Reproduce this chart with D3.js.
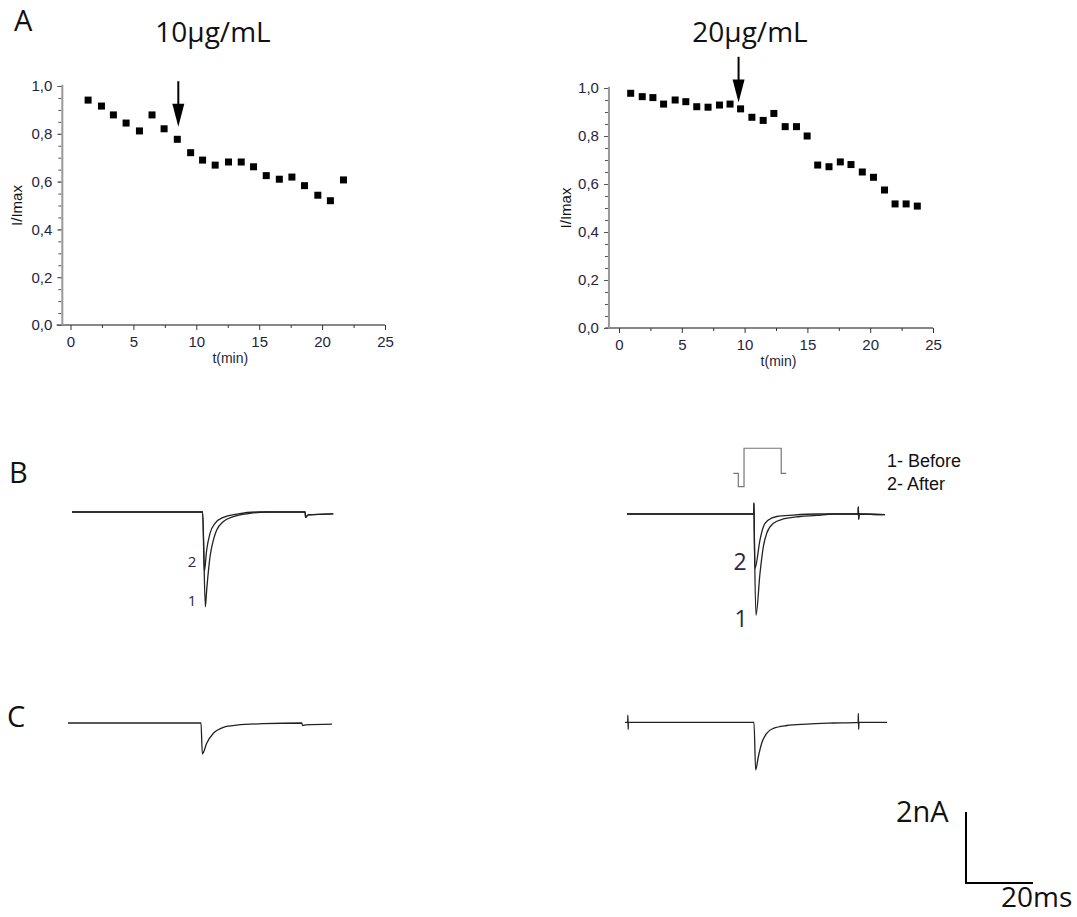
<!DOCTYPE html>
<html>
<head>
<meta charset="utf-8">
<script src="https://cdn.jsdelivr.net/npm/d3@7"></script>
<style>
body { margin: 0; background: #fff; }
svg { display: block; }
.tick text { font-family: "Liberation Sans", Arial, sans-serif; font-size: 15px; fill: #1e2440; }
.panel { font-family: "Open Sans", sans-serif; fill: #111; }
</style>
</head>
<body>
<div id="chart"></div>
<script>
// A: normalised current vs time (min)
const timeLeft = [1.40, 2.46, 3.41, 4.42, 5.48, 6.48, 7.44, 8.49, 9.55, 10.5, 11.5, 12.56, 13.57, 14.55, 15.56, 16.6, 17.6, 18.6, 19.66, 20.66, 21.7];
const ratioLeft = [0.941, 0.916, 0.879, 0.845, 0.812, 0.879, 0.821, 0.777, 0.721, 0.690, 0.669, 0.682, 0.682, 0.662, 0.625, 0.610, 0.619, 0.583, 0.543, 0.520, 0.607];
const timeRight = [0.93, 1.85, 2.70, 3.55, 4.47, 5.32, 6.19, 7.09, 8.0, 8.84, 9.68, 10.58, 11.48, 12.33, 13.23, 14.13, 14.98, 15.82, 16.72, 17.62, 18.47, 19.37, 20.26, 21.14, 21.98, 22.86, 23.75];
const ratioRight = [0.978, 0.964, 0.960, 0.933, 0.950, 0.943, 0.922, 0.920, 0.929, 0.933, 0.913, 0.878, 0.865, 0.894, 0.839, 0.839, 0.800, 0.679, 0.672, 0.692, 0.681, 0.650, 0.628, 0.575, 0.517, 0.517, 0.508];
const arrowLeft = {t: 8.57, from: 1.02, to: 0.83};
const arrowRight = {t: 9.52, from: 1.13, to: 0.94};
const xTicks = [0, 5, 10, 15, 20, 25];
const yTicks = [0, 0.2, 0.4, 0.6, 0.8, 1.0];

// B and C: current traces [ms, nA]
const traceB1Left = [[0, 0], [39.0, 0], [39.8, -2.67], [40.2, -2.20], [41.2, -1.26], [42.2, -0.79], [43.2, -0.51], [45.2, -0.27], [48.2, -0.13], [53.1, -0.04], [58.1, 0], [69.6, 0], [69.7, -0.15], [70.5, -0.08], [78, -0.05]];
const traceB2Left = [[0, 0], [39.0, 0], [39.5, -1.68], [40.2, -1.07], [41.2, -0.60], [42.7, -0.32], [45.2, -0.15], [49.2, -0.06], [55.2, 0], [69.6, 0], [69.7, -0.15], [70.5, -0.08], [78, -0.05]];
const traceB1Right = [[0, 0], [37.8, 0], [37.9, 0.31], [38.0, -0.5], [38.5, -2.85], [39.7, -1.67], [40.7, -0.92], [41.7, -0.54], [43.7, -0.26], [46.7, -0.14], [51.6, -0.07], [56.6, -0.04], [61.6, 0], [69.0, 0], [69.05, 0.2], [69.15, -0.15], [69.3, 0], [77, -0.02]];
const traceB2Right = [[0, 0], [37.8, 0], [37.9, 0.31], [38.0, -0.5], [38.2, -1.53], [39.7, -0.73], [40.7, -0.36], [42.2, -0.17], [44.7, -0.07], [49.6, -0.03], [56.6, 0], [69.0, 0], [69.05, 0.2], [69.15, -0.15], [69.3, 0], [77, -0.02]];
const traceCLeft = [[0, 0], [39.7, 0], [40.1, -0.87], [41.4, -0.57], [43.4, -0.29], [46.4, -0.12], [50.4, -0.06], [58.3, -0.02], [69.8, 0], [70.0, -0.07], [71, -0.05], [78.8, -0.03]];
const traceCRight = [[0, 0], [0.8, 0], [0.85, 0.2], [0.95, -0.2], [1.0, 0], [38.5, 0], [39.0, -1.34], [39.8, -0.97], [40.8, -0.59], [42.3, -0.31], [44.3, -0.17], [48.3, -0.09], [54.2, -0.05], [62.2, -0.02], [69.6, 0], [69.65, 0.25], [69.75, -0.2], [69.85, 0], [78.2, 0]];
// voltage protocol sketch [ms, level]
const protocol = [[0, 0], [1.5, 0], [1.5, -1], [3.2, -1], [3.2, 1.87], [14.3, 1.87], [14.3, 0], [15.8, 0]];

const width = 1077;
const height = 917;

const svg = d3.select('#chart')
    .append('svg')
    .attr('width', width)
    .attr('height', height);

const fmt = d => d3.format('.1f')(d).replace('.', ',');

const drawScatter = (cfg) => {
    const x = d3.scaleLinear().domain([0, 25]).range([cfg.x0, cfg.x25]);
    const y = d3.scaleLinear().domain([0, 1]).range([cfg.y0, cfg.y1]);
    const g = svg.append('g');

    // x axis
    g.append('line')
        .attr('x1', x(-1.1)).attr('x2', x(25))
        .attr('y1', y(0)).attr('y2', y(0))
        .attr('stroke', '#111').attr('stroke-width', 1.2);
    const xMinor = g.append('g')
        .attr('transform', 'translate(0,' + y(0) + ')')
        .call(d3.axisBottom(x).tickValues(d3.range(2.5, 25, 5)).tickSize(3).tickFormat(''));
    const xMajor = g.append('g')
        .attr('transform', 'translate(0,' + y(0) + ')')
        .call(d3.axisBottom(x).tickValues(xTicks).tickSize(5).tickPadding(6).tickFormat(d3.format('d')));
    [xMinor, xMajor].forEach(a => {
        a.select('.domain').remove();
        a.selectAll('.tick line').attr('stroke', '#333');
    });

    // y axis
    const yx = x(cfg.yAxisAt);
    g.append('line')
        .attr('x1', yx).attr('x2', yx)
        .attr('y1', y(0)).attr('y2', y(1.005))
        .attr('stroke', '#999').attr('stroke-width', 2);
    const yMinor = g.append('g')
        .attr('transform', 'translate(' + (yx - 1) + ',0)')
        .call(d3.axisLeft(y).tickValues(d3.range(0, 1.001, 0.05)).tickSize(3).tickFormat(''));
    const yMajor = g.append('g')
        .attr('transform', 'translate(' + (yx - 1) + ',0)')
        .call(d3.axisLeft(y).tickValues(yTicks).tickSize(4).tickPadding(5).tickFormat(fmt));
    [yMinor, yMajor].forEach(a => {
        a.select('.domain').remove();
        a.selectAll('.tick line').attr('stroke', '#555');
    });

    g.append('text')
        .text('t(min)')
        .attr('x', x(12.7)).attr('y', y(0) + 38)
        .attr('text-anchor', 'middle')
        .attr('font-family', '"Liberation Sans", Arial, sans-serif')
        .attr('font-size', 14)
        .attr('fill', '#1e2440');

    g.append('text')
        .text('I/Imax')
        .attr('transform', 'translate(' + cfg.labelX + ',' + y(0.5) + ') rotate(-90)')
        .attr('text-anchor', 'middle')
        .attr('font-family', '"Liberation Sans", Arial, sans-serif')
        .attr('font-size', 15)
        .attr('fill', '#111');

    g.selectAll('rect.pt')
        .data(d3.zip(cfg.t, cfg.v))
        .enter()
        .append('rect')
        .attr('class', 'pt')
        .attr('x', d => x(d[0]) - 3.5)
        .attr('y', d => y(d[1]) - 3.5)
        .attr('width', 7)
        .attr('height', 7)
        .attr('fill', '#000');

    // application arrow
    const ax = x(cfg.arrow.t);
    g.append('line')
        .attr('x1', ax).attr('x2', ax)
        .attr('y1', y(cfg.arrow.from)).attr('y2', y(cfg.arrow.to) - 10)
        .attr('stroke', '#000').attr('stroke-width', 2);
    const tip = y(cfg.arrow.to);
    g.append('path')
        .attr('d', 'M' + (ax - 6) + ',' + (tip - 23) + 'L' + (ax + 6) + ',' + (tip - 23) + 'L' + ax + ',' + tip + 'Z')
        .attr('fill', '#000');

    g.append('text')
        .attr('class', 'panel')
        .text(cfg.title)
        .attr('x', cfg.titleX).attr('y', 42)
        .attr('text-anchor', 'middle')
        .attr('font-size', 28);
};

drawScatter({t: timeLeft, v: ratioLeft, x0: 70.5, x25: 385, y0: 325, y1: 86, yAxisAt: -0.65,
    labelX: 22, arrow: arrowLeft, title: '10µg/mL', titleX: 213});
drawScatter({t: timeRight, v: ratioRight, x0: 619, x25: 933, y0: 328, y1: 88, yAxisAt: -0.8,
    labelX: 571, arrow: arrowRight, title: '20µg/mL', titleX: 750});

// traces
const xT = d3.scaleLinear().domain([0, 20]).range([0, 67]);
const yT = d3.scaleLinear().domain([0, 2]).range([0, -71]);
const traceLine = d3.line()
    .x(d => xT(d[0]))
    .y(d => yT(d[1]))
    .curve(d3.curveMonotoneX);

const drawTraces = (ox, oy, traces) => {
    const g = svg.append('g').attr('transform', 'translate(' + ox + ',' + oy + ')');
    traces.forEach(tr => {
        g.append('path')
            .attr('d', traceLine(tr))
            .attr('fill', 'none')
            .attr('stroke', '#222')
            .attr('stroke-width', 1.3);
    });
    return g;
};

drawTraces(72, 512, [traceB1Left, traceB2Left]);
drawTraces(627, 514, [traceB1Right, traceB2Right]);
drawTraces(68, 723, [traceCLeft]);
drawTraces(625, 722.3, [traceCRight]);

// protocol inset
const yP = d3.scaleLinear().domain([0, 1]).range([0, -13.4]);
svg.append('path')
    .attr('transform', 'translate(733.3,473.3)')
    .attr('d', d3.line().x(d => xT(d[0])).y(d => yP(d[1]))(protocol))
    .attr('fill', 'none')
    .attr('stroke', '#777')
    .attr('stroke-width', 1.2);

// trace labels
const numLabel = (txt, x, y, size) => {
    svg.append('text')
        .text(txt)
        .attr('x', x).attr('y', y)
        .attr('text-anchor', 'middle')
        .attr('font-family', '"Open Sans", sans-serif')
        .attr('font-size', size)
        .attr('fill', '#1f2a4a');
};
numLabel('2', 192, 567, 15);
numLabel('1', 192, 606, 15);
numLabel('2', 740, 570, 23);
numLabel('1', 741, 627, 23);

['1- Before', '2- After'].forEach((s, i) => {
    svg.append('text')
        .text(s)
        .attr('x', 887).attr('y', 467 + i * 23)
        .attr('font-family', '"Liberation Sans", Arial, sans-serif')
        .attr('font-size', 18)
        .attr('fill', '#111');
});

// panel letters
[['A', 14, 31], ['B', 9, 483], ['C', 7, 727]].forEach(p => {
    svg.append('text')
        .attr('class', 'panel')
        .text(p[0])
        .attr('x', p[1]).attr('y', p[2])
        .attr('font-size', 29);
});

// scale bar: 2 nA, 20 ms
const sb = svg.append('g').attr('transform', 'translate(966,883)');
sb.append('path')
    .attr('d', 'M0,' + yT(2) + 'L0,' + yT(0) + 'L' + xT(20) + ',' + yT(0))
    .attr('fill', 'none')
    .attr('stroke', '#000')
    .attr('stroke-width', 2);
svg.append('text').attr('class', 'panel').text('2nA')
    .attr('x', 896).attr('y', 822).attr('font-size', 29);
svg.append('text').attr('class', 'panel').text('20ms')
    .attr('x', 1001).attr('y', 907).attr('font-size', 28);
</script>
</body>
</html>
